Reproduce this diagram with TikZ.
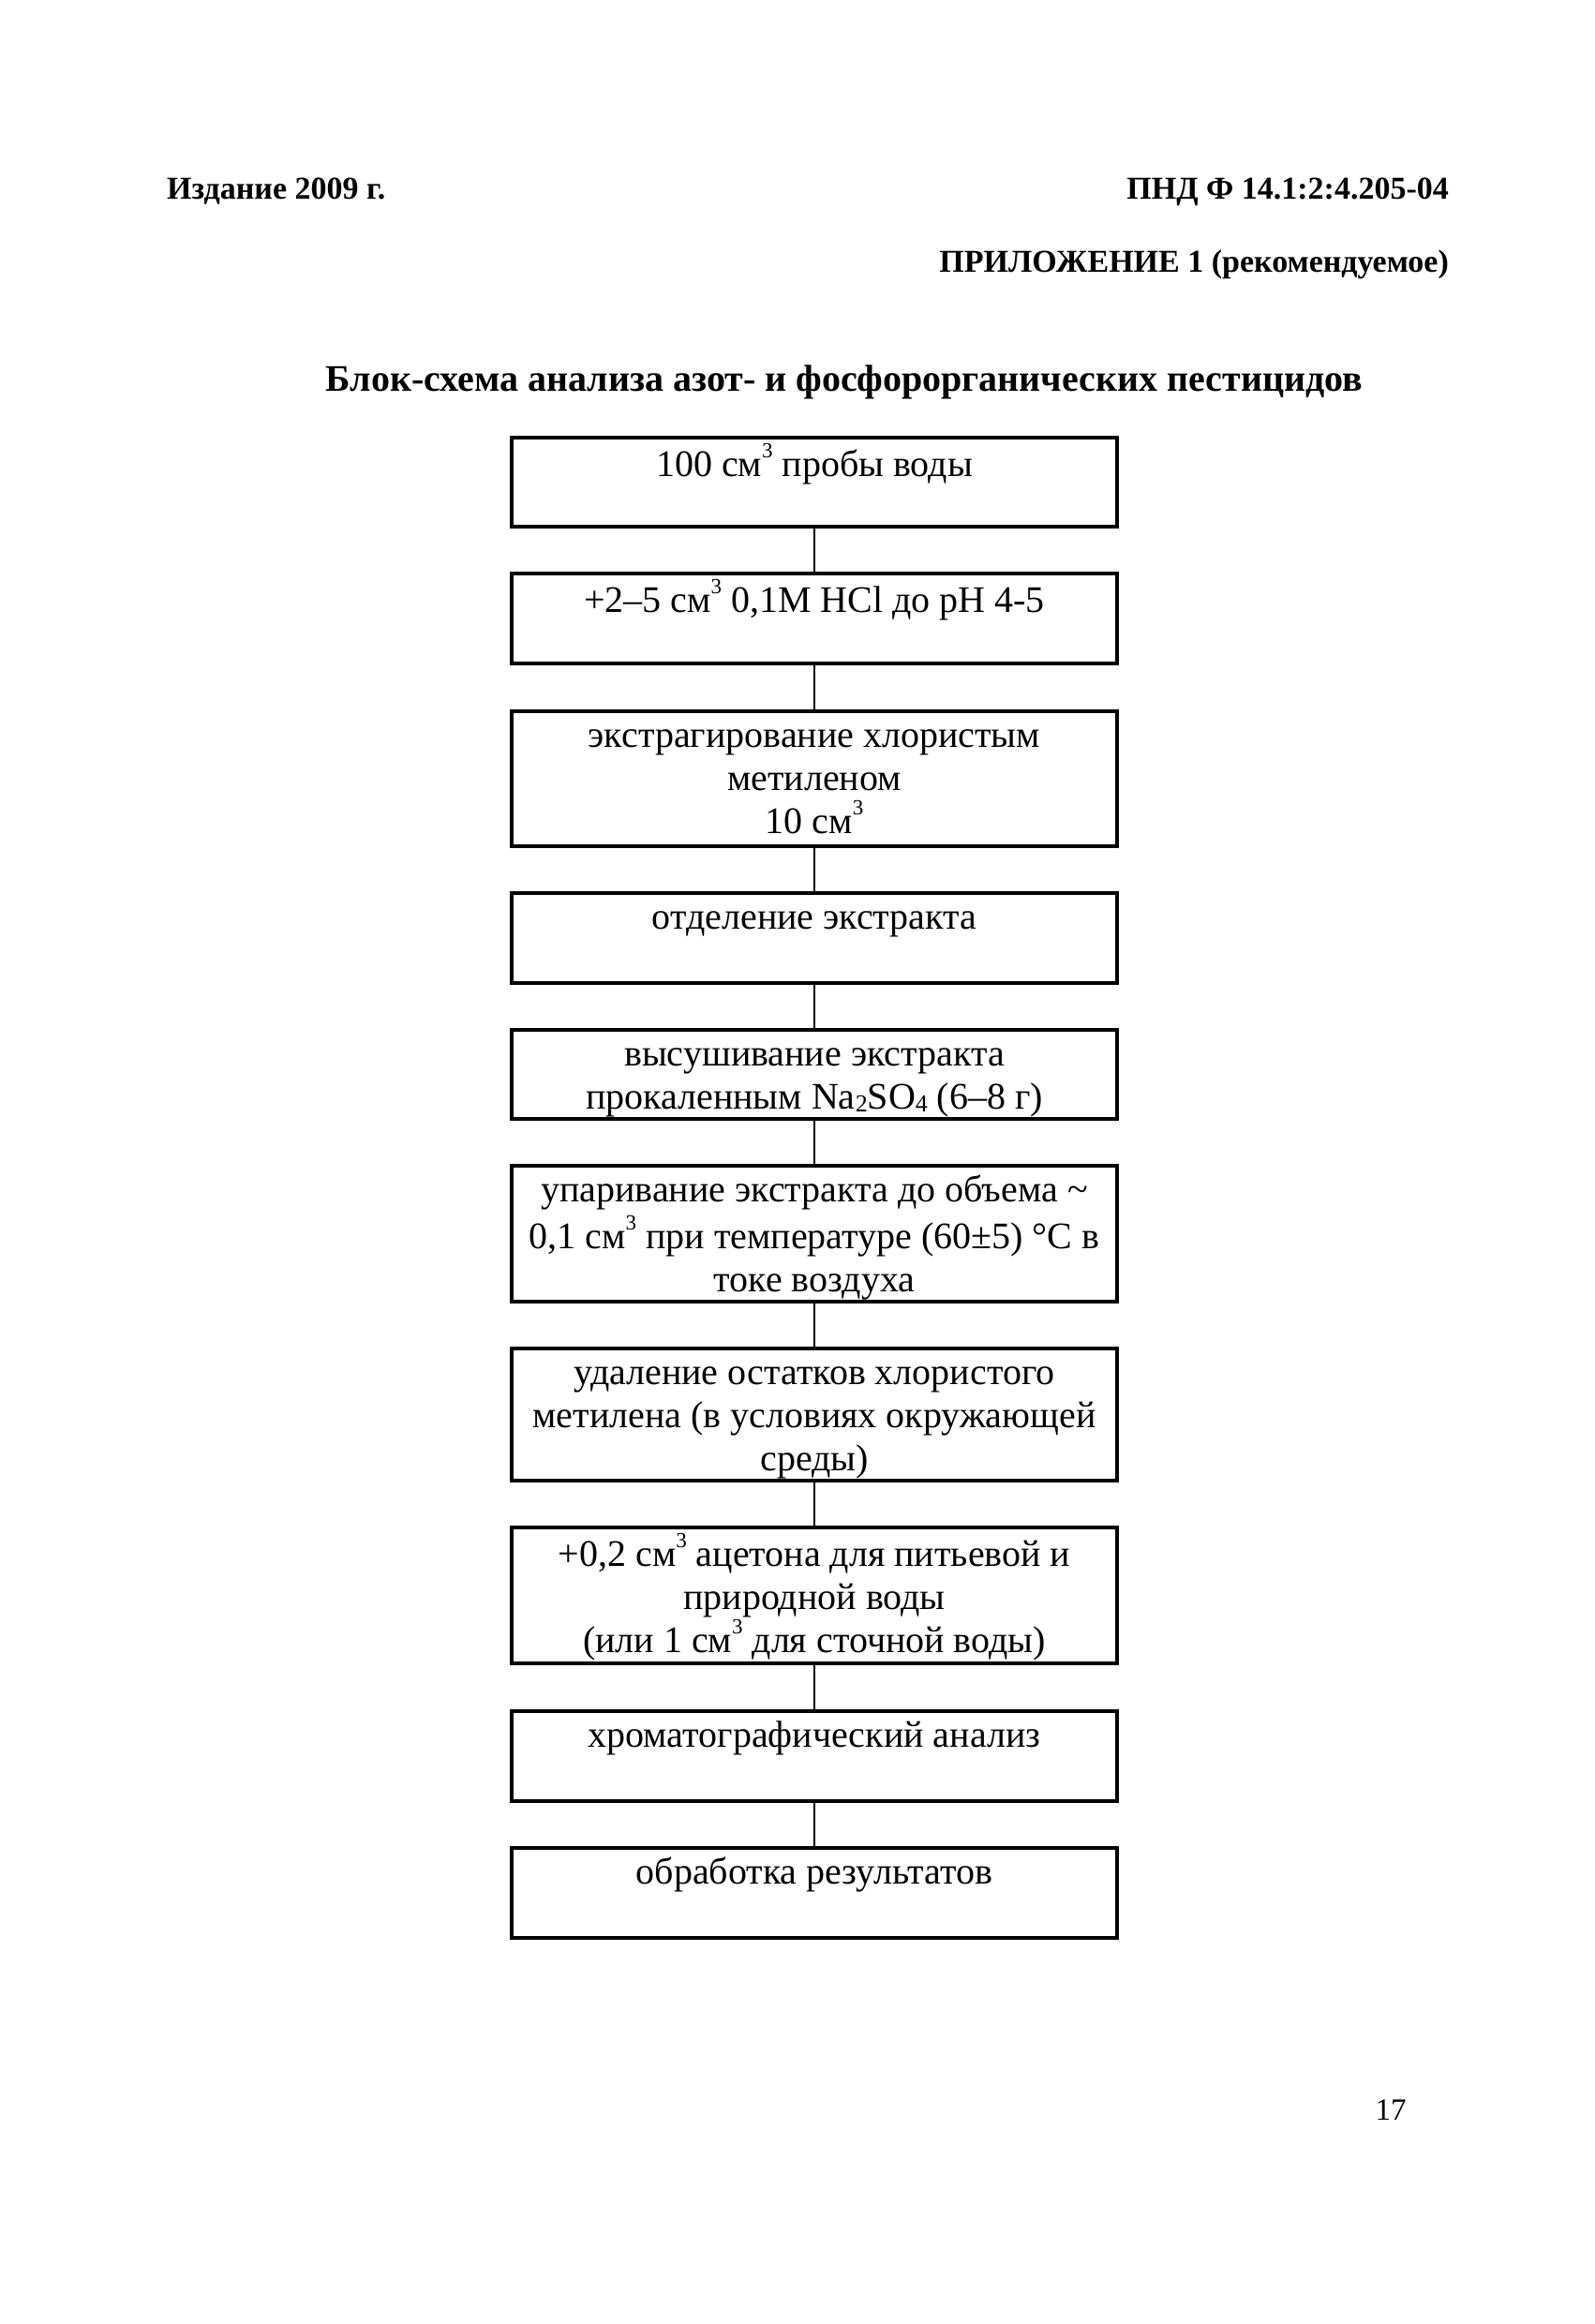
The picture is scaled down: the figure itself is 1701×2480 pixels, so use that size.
\documentclass[tikz,border=0pt]{standalone}
\usepackage{fontspec}
\setmainfont{Liberation Serif}
\newcommand\supthree{\raisebox{20pt}{\fontsize{23}{23}\selectfont 3}}
\newcommand\subnum[1]{\raisebox{-3pt}{\fontsize{26}{26}\selectfont #1}}
\begin{document}
\begin{tikzpicture}[x=1pt,y=-1pt,
  boxst/.style={draw, line width=3.2pt, minimum width=646pt, inner sep=0pt},
  txt/.style={anchor=north, align=center, inner sep=0pt, font=\fontsize{40}{46}\selectfont},
  hdr/.style={inner sep=0pt, font=\fontsize{34}{40}\selectfont\bfseries},
  ttl/.style={inner sep=0pt, font=\fontsize{40}{46}\selectfont\bfseries},
  num/.style={inner sep=0pt, font=\fontsize{33}{40}\selectfont},
  link/.style={line width=2.8pt}]
\useasboundingbox (0,0) rectangle (1701,2480);
\fill[white] (0,0) rectangle (1701,2480);

\node[hdr, anchor=base west] (h1) at (178,213) {Издание 2009 г.};
\node[hdr, anchor=base east] (h2) at (1546,213) {ПНД Ф 14.1:2:4.205-04};
\node[hdr, anchor=base east] (h3) at (1546,291) {ПРИЛОЖЕНИЕ 1 (рекомендуемое)};
\node[ttl, anchor=base] (t) at (901,417) {Блок-схема анализа азот- и фосфорорганических пестицидов};

\node[boxst, minimum height=95pt] (b1) at (869,514.5) {};
\node[boxst, minimum height=96pt] (b2) at (869,660) {};
\node[boxst, minimum height=144pt] (b3) at (869,831) {};
\node[boxst, minimum height=96pt] (b4) at (869,1001) {};
\node[boxst, minimum height=95pt] (b5) at (869,1146.5) {};
\node[boxst, minimum height=145pt] (b6) at (869,1316.5) {};
\node[boxst, minimum height=141pt] (b7) at (869,1509.5) {};
\node[boxst, minimum height=145pt] (b8) at (869,1702.5) {};
\node[boxst, minimum height=96pt] (b9) at (869,1874) {};
\node[boxst, minimum height=96pt] (b10) at (869,2020) {};

\node[txt] (x1) at ([yshift=-8pt]b1.north) {\strut 100 см\supthree{} пробы воды};
\node[txt] (x2) at ([yshift=-8pt]b2.north) {\strut +2–5 см\supthree{} 0,1M HCl до pH 4-5};
\node[txt] (x3) at ([yshift=-8pt]b3.north) {\strut экстрагирование хлористым\\ метиленом\\ 10 см\supthree};
\node[txt] (x4) at ([yshift=-8pt]b4.north) {\strut отделение экстракта};
\node[txt] (x5) at ([yshift=-8pt]b5.north) {\strut высушивание экстракта\\ прокаленным Na\subnum{2}SO\subnum{4} (6–8 г)};
\node[txt] (x6) at ([yshift=-8pt]b6.north) {\strut упаривание экстракта до объема \textasciitilde\\ 0,1 см\supthree{} при температуре (60±5) °C в\\ токе воздуха};
\node[txt] (x7) at ([yshift=-8pt]b7.north) {\strut удаление остатков хлористого\\ метилена (в условиях окружающей\\ среды)};
\node[txt] (x8) at ([yshift=-8pt]b8.north) {\strut +0,2 см\supthree{} ацетона для питьевой и\\ природной воды\\ (или 1 см\supthree{} для сточной воды)};
\node[txt] (x9) at ([yshift=-8pt]b9.north) {\strut хроматографический анализ};
\node[txt] (x10) at ([yshift=-8pt]b10.north) {\strut обработка результатов};

\draw[link] (b1.south) -- (b2.north);
\draw[link] (b2.south) -- (b3.north);
\draw[link] (b3.south) -- (b4.north);
\draw[link] (b4.south) -- (b5.north);
\draw[link] (b5.south) -- (b6.north);
\draw[link] (b6.south) -- (b7.north);
\draw[link] (b7.south) -- (b8.north);
\draw[link] (b8.south) -- (b9.north);
\draw[link] (b9.south) -- (b10.north);

\node[num, anchor=base] (p) at (1484,2262) {17};
\end{tikzpicture}
\end{document}
